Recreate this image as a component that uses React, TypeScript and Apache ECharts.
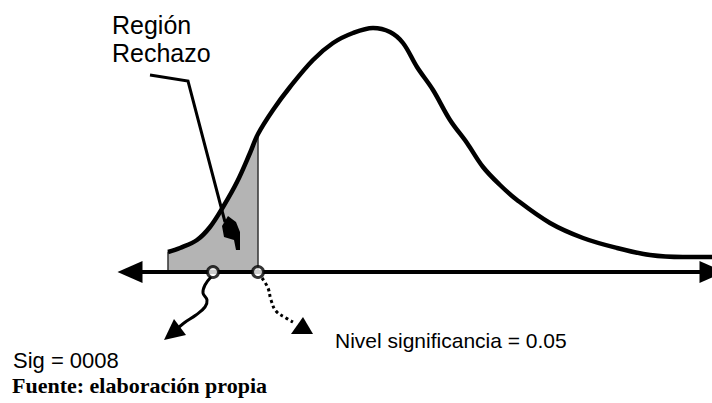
import React, { useEffect, useRef } from "react";
import * as echarts from "echarts";

// Density curve (x position, height above the axis)
const curveX = [168, 180, 197, 210, 223, 237, 250, 258, 273, 290, 313, 333, 353, 373, 390, 403, 417, 433, 450, 467, 483, 500, 517, 550, 583, 617, 650, 683, 712];
const curveY = [20, 24, 32, 45, 65, 90, 119, 138, 162, 185, 212, 229, 239, 244, 240, 229, 205, 182, 152, 129, 105, 87, 72, 49, 34, 24, 17, 15, 15];

// Critical value (nivel de significancia) and observed sig position on the axis
const criticalX = 258;
const sigX = 213;
const markerXs = [sigX, criticalX];

const labelRegion = ["Región", "Rechazo"];
const labelNivel = "Nivel significancia = 0.05";
const labelSig = "Sig = 0008";
const labelFuente = "Fuente: elaboración propia";

export default function App() {
  const ref = useRef<HTMLDivElement>(null);
  useEffect(() => {
    if (!ref.current) return;
    const chart = echarts.init(ref.current, null, { renderer: "svg" });
    const curve = curveX.map((x, i) => [x, curveY[i]]);
    const shadePts = curve.filter((p) => p[0] <= criticalX);
    const shade = [[curveX[0], 0], ...shadePts, [criticalX, 0]];
    const sans = "Liberation Sans, Arial, sans-serif";
    const serif = "Liberation Serif, Times New Roman, serif";
    const txt = (text: string, x: number, y: number, font: string) => ({
      type: "text",
      z: 10,
      style: { text, x, y, fill: "#000", font, verticalAlign: "middle", align: "left" },
    });
    chart.setOption({
      animation: false,
      backgroundColor: "#ffffff",
      grid: { left: 130, right: 0, top: 0, bottom: 0, containLabel: false },
      xAxis: {
        type: "value",
        min: 130,
        max: 712,
        z: 3,
        axisLine: {
          show: true,
          onZero: true,
          symbol: ["triangle", "triangle"],
          symbolSize: [22, 25],
          lineStyle: { color: "#000", width: 4 },
        },
        axisTick: { show: false },
        axisLabel: { show: false },
        splitLine: { show: false },
      },
      yAxis: {
        type: "value",
        min: -131,
        max: 272,
        show: false,
        splitLine: { show: false },
      },
      series: [
        {
          type: "line",
          data: shade,
          showSymbol: false,
          smooth: false,
          lineStyle: { color: "#333", width: 1.5 },
          areaStyle: { color: "#b4b4b4", opacity: 1 },
          z: 1,
        },
        {
          type: "line",
          data: curve,
          showSymbol: false,
          smooth: 0.35,
          lineStyle: { color: "#000", width: 4.5 },
          z: 2,
        },
        {
          type: "scatter",
          data: markerXs.map((x) => [x, 0]),
          symbol: "circle",
          symbolSize: 11,
          itemStyle: { color: "#fff", borderColor: "#000", borderWidth: 3 },
          z: 6,
        },
      ],
      graphic: [
        txt(labelRegion[0], 112, 24.5, `25px ${sans}`),
        txt(labelRegion[1], 112, 52.5, `25px ${sans}`),
        {
          type: "polyline",
          z: 10,
          shape: { points: [[150, 75], [188, 81], [225, 222]] },
          style: { stroke: "#000", lineWidth: 3, fill: null },
        },
        {
          type: "polygon",
          z: 10,
          shape: { points: [[222, 226], [228, 216], [236, 222], [240, 232], [240, 250], [236, 250], [234, 240], [224, 237]] },
          style: { fill: "#000" },
        },
        {
          type: "polyline",
          z: 10,
          shape: {
            points: [[211, 277], [205, 285], [203, 293], [207, 300], [205, 307], [196, 315], [184, 323], [176, 330]],
            smooth: 0.4,
          },
          style: { stroke: "#000", lineWidth: 3, fill: null },
        },
        {
          type: "polygon",
          z: 10,
          shape: { points: [[164, 340], [174, 319], [186, 335]] },
          style: { fill: "#000" },
        },
        {
          type: "polyline",
          z: 10,
          shape: {
            points: [[262, 278], [268, 288], [271, 300], [276, 311], [286, 318], [293, 322]],
            smooth: 0.4,
          },
          style: { stroke: "#000", lineWidth: 3, lineDash: [3, 3], fill: null },
        },
        {
          type: "polygon",
          z: 10,
          shape: { points: [[303, 317], [291, 334], [313, 334]] },
          style: { fill: "#000" },
        },
        txt(labelNivel, 335, 340, `21px ${sans}`),
        txt(labelSig, 13, 360, `22px ${sans}`),
        txt(labelFuente, 12, 385, `bold 22px ${serif}`),
      ],
    });
    return () => chart.dispose();
  }, []);
  return (
    <div
      ref={ref}
      style={{ position: "fixed", left: 0, top: 0, width: 712, height: 403, background: "#fff" }}
    />
  );
}
